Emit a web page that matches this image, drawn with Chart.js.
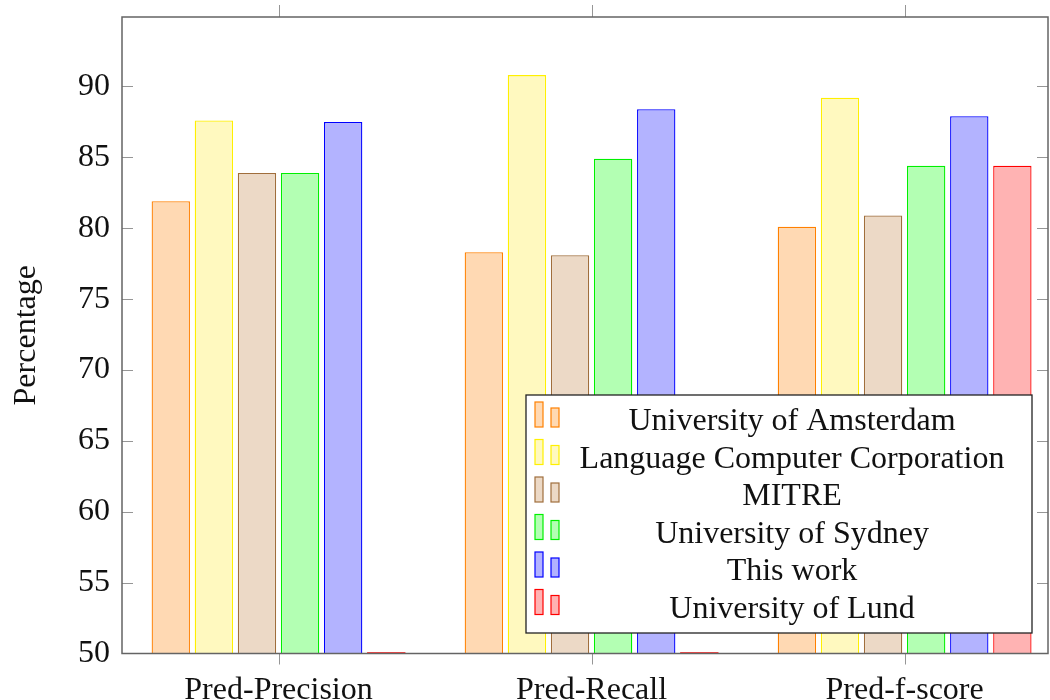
<!DOCTYPE html>
<html>
<head>
<meta charset="utf-8">
<style>
  html, body { margin: 0; padding: 0; background: #ffffff; }
  #wrap { width: 1050px; height: 700px; }
</style>
<script src="https://cdn.jsdelivr.net/npm/chart.js@4.4.1/dist/chart.umd.min.js"></script>
</head>
<body>
<div id="wrap"><canvas id="chart" width="1050" height="700"></canvas></div>
<script>
// Categories, series and tick values
const categories = ['Pred-Precision', 'Pred-Recall', 'Pred-f-score'];
const yTickValues = [50, 55, 60, 65, 70, 75, 80, 85, 90];

const amsterdam = [81.9, 78.3, 80.1];
const lcc       = [87.6, 90.8, 89.2];
const mitre     = [83.9, 78.1, 80.9];
const sydney    = [83.9, 84.9, 84.4];
const thisWork  = [87.5, 88.4, 87.9];
const lund      = [0, 0, 84.4];

const seriesNames = [
  'University of Amsterdam',
  'Language Computer Corporation',
  'MITRE',
  'University of Sydney',
  'This work',
  'University of Lund'
];
const seriesValues = [amsterdam, lcc, mitre, sydney, thisWork, lund];
const seriesStroke = ['rgb(255,128,0)', 'rgb(255,240,0)', 'rgb(160,110,60)', 'rgb(0,240,0)', 'rgb(0,0,255)', 'rgb(255,0,0)'];
const seriesFill   = ['rgb(255,217,179)', 'rgb(255,249,191)', 'rgb(236,217,198)', 'rgb(179,255,179)', 'rgb(179,179,255)', 'rgb(255,179,179)'];

const FONT = '"Liberation Serif", "Times New Roman", serif';
const FONT_SIZE = 32;

const datasets = seriesValues.map((vals, i) => ({
  label: seriesNames[i],
  data: vals.map((v, k) => ({ x: k, y: v })),
  backgroundColor: seriesFill[i],
  borderColor: seriesStroke[i],
  borderWidth: 1.3,
  borderSkipped: false,
  barPercentage: 0.89,
  categoryPercentage: 0.826
}));

// Axis box with pgfplots-style tick marks
const framePlugin = {
  id: 'frame',
  afterDatasetsDraw(chart) {
    const { ctx, chartArea: a, scales } = chart;
    ctx.save();
    // series whose value lies below the axis minimum show as a thin line on the baseline
    seriesValues.forEach((vals, i) => {
      const meta = chart.getDatasetMeta(i);
      vals.forEach((v, k) => {
        if (v < scales.y.min) {
          const bar = meta.data[k];
          ctx.strokeStyle = seriesStroke[i];
          ctx.lineWidth = 1.3;
          ctx.beginPath();
          ctx.moveTo(bar.x - bar.width / 2, a.bottom - 0.5);
          ctx.lineTo(bar.x + bar.width / 2, a.bottom - 0.5);
          ctx.stroke();
        }
      });
    });
    ctx.strokeStyle = 'rgb(150,150,150)';
    ctx.lineWidth = 1;
    yTickValues.forEach(v => {
      const y = Math.round(scales.y.getPixelForValue(v)) + 0.5;
      if (v === 50) return;
      ctx.beginPath(); ctx.moveTo(a.left, y); ctx.lineTo(a.left + 11, y); ctx.stroke();
      ctx.beginPath(); ctx.moveTo(a.right - 11, y); ctx.lineTo(a.right, y); ctx.stroke();
    });
    categories.forEach((c, i) => {
      const x = Math.round(scales.x.getPixelForValue(i)) + 0.5;
      ctx.beginPath(); ctx.moveTo(x, a.bottom); ctx.lineTo(x, a.bottom + 11); ctx.stroke();
      ctx.beginPath(); ctx.moveTo(x, a.top - 12); ctx.lineTo(x, a.top); ctx.stroke();
    });
    ctx.strokeStyle = 'rgb(100,100,100)';
    ctx.lineWidth = 1.5;
    ctx.strokeRect(a.left, a.top, a.right - a.left, a.bottom - a.top);
    ctx.restore();
  }
};

// Boxed legend with small bar glyphs and centred names
const legendPlugin = {
  id: 'boxLegend',
  afterDraw(chart) {
    const { ctx } = chart;
    const bx = 526, by = 395, bw = 506, bh = 238;
    ctx.save();
    ctx.fillStyle = '#ffffff';
    ctx.fillRect(bx, by, bw, bh);
    ctx.strokeStyle = '#222';
    ctx.lineWidth = 1.3;
    ctx.strokeRect(bx, by, bw, bh);
    const rowH = 37.5;
    seriesNames.forEach((name, i) => {
      const cy = by + 24 + i * rowH;
      ctx.fillStyle = seriesFill[i];
      ctx.strokeStyle = seriesStroke[i];
      ctx.lineWidth = 1.2;
      ctx.fillRect(535, cy - 17, 8, 25);
      ctx.strokeRect(535, cy - 17, 8, 25);
      ctx.fillRect(551, cy - 11, 8, 19);
      ctx.strokeRect(551, cy - 11, 8, 19);
      ctx.fillStyle = '#111';
      ctx.font = FONT_SIZE + 'px ' + FONT;
      ctx.textAlign = 'center';
      ctx.textBaseline = 'alphabetic';
      ctx.fillText(name, 792, cy + 11);
    });
    ctx.restore();
  }
};

new Chart(document.getElementById('chart'), {
  type: 'bar',
  data: { datasets },
  options: {
    responsive: false,
    animation: false,
    events: [],
    layout: { padding: { top: 17, right: 2, left: 0, bottom: 0 } },
    plugins: { legend: { display: false }, tooltip: { enabled: false } },
    scales: {
      x: {
        type: 'linear',
        min: -0.5,
        max: 2.458,
        offset: false,
        grid: { display: false, drawTicks: false },
        border: { display: false },
        afterBuildTicks(scale) { scale.ticks = categories.map((c, i) => ({ value: i })); },
        afterFit(scale) {
          scale.height = 46.5;
          scale.paddingLeft = 0;
          scale.paddingRight = 0;
        },
        ticks: {
          autoSkip: false,
          maxRotation: 0,
          padding: 18,
          color: '#111',
          font: { family: FONT, size: FONT_SIZE },
          callback: (v) => categories[v]
        }
      },
      y: {
        min: 50,
        max: 94.9,
        grid: { display: false, drawTicks: false },
        border: { display: false },
        afterBuildTicks(scale) { scale.ticks = yTickValues.map(v => ({ value: v })); },
        afterFit(scale) {
          scale.width = 122;
          scale.paddingTop = 0;
          scale.paddingBottom = 0;
        },
        ticks: {
          padding: 12,
          color: '#111',
          font: { family: FONT, size: FONT_SIZE }
        },
        title: {
          display: true,
          text: 'Percentage',
          color: '#111',
          font: { family: FONT, size: FONT_SIZE },
          padding: { top: 7, bottom: 0 }
        }
      }
    }
  },
  plugins: [framePlugin, legendPlugin]
});
</script>
</body>
</html>
